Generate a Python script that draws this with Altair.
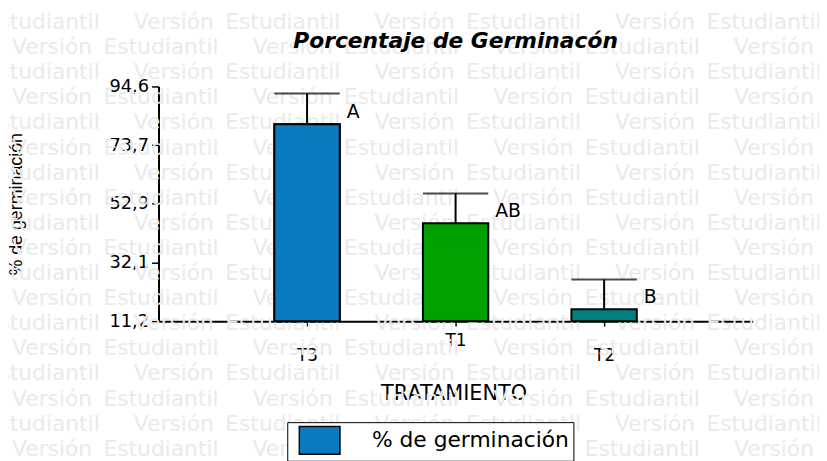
import altair as alt
import pandas as pd

# ---- data ----
tratamientos = ["T3", "T1", "T2"]
medias = [81.2, 46.0, 15.4]
superiores = [92.1, 56.6, 26.0]
letras = ["A", "AB", "B"]
serie = "% de germinación"
y_ticks = [11.2, 32.1, 52.9, 73.7, 94.6]
y_min, y_max = 11.2, 94.6

titulo = "Porcentaje de Germinacón"
x_titulo = "TRATAMIENTO"
y_titulo = "% de germinación"
marca = ["Versión", "Estudiantil"]

# ---- styles ----
colores = ["#0a7bc1", "#00a000", "#008080"]
W, H = 600, 237
LEFT, TOP = 152, 77
FONT = "DejaVu Sans"

df = pd.DataFrame({
    "trat": tratamientos,
    "media": medias,
    "sup": superiores,
    "letra": letras,
    "serie": [serie] * len(tratamientos),
})

# background watermark ("Versión Estudiantil" tiled), positioned in pixels
wm_rows = []
for i in range(18):
    yb = 27 + 25.35 * i - (TOP + 8)
    start = 10 if i % 2 else 133 - 243
    for k in range(5):
        x0 = start + 243 * k - (LEFT + 8)
        wm_rows.append({"w": marca[0], "wx": x0 + 42.5, "wy": yb})
        wm_rows.append({"w": marca[1], "wx": x0 + 152.5, "wy": yb})
wm_df = pd.DataFrame(wm_rows)

wm = alt.Chart(wm_df).mark_text(
    font=FONT, fontSize=22, color="#eaeaea", align="center", baseline="alphabetic"
).encode(
    x=alt.X("wx:Q", scale=None, axis=None),
    y=alt.Y("wy:Q", scale=None, axis=None),
    text="w:N",
)

x_enc = alt.X(
    "trat:N", sort=tratamientos, title=x_titulo,
    scale=alt.Scale(type="point", padding=1),
    axis=alt.Axis(
        labelAngle=0, labelOverlap=False,
        domainColor="black", domainWidth=2,
        tickColor="black", tickWidth=1.5, tickSize=5,
        labelPadding={"condition": {"test": "datum.value == 'T1'", "value": 7}, "value": 22},
        labelFont=FONT, labelFontSize=17, labelColor="black",
        titleFont=FONT, titleFontSize=21, titleFontWeight="normal", titleColor="black",
        titleX=298, titleY=79, titleAlign="center", titleBaseline="alphabetic",
    ),
)
y_enc = alt.Y(
    "media:Q", title=y_titulo,
    scale=alt.Scale(domain=[y_min, y_max], nice=False, zero=False),
    axis=alt.Axis(
        values=y_ticks, grid=False, labelOverlap=False,
        labelExpr="replace(format(datum.value, '.1f'), '.', ',')",
        domainColor="black", domainWidth=2,
        tickColor="black", tickWidth=1.5, tickSize=7, labelPadding=3,
        labelFont=FONT, labelFontSize=18, labelColor="black",
        titleFont="Liberation Sans", titleFontSize=18, titleFontWeight="normal", titleColor="black",
        titleAngle=-90, titleX=-143, titleY=118.5, titleAlign="center", titleBaseline="middle",
    ),
)

base = alt.Chart(df)

bars = base.mark_bar(size=66, stroke="black", strokeWidth=2).encode(
    x=x_enc, y=y_enc, y2=alt.datum(y_min),
    fill=alt.Fill("trat:N", scale=alt.Scale(domain=tratamientos, range=colores), legend=None),
)

leyenda = base.transform_filter(alt.datum.trat == tratamientos[0]).mark_bar(
    size=66, stroke="black", strokeWidth=2
).encode(
    x=alt.X("trat:N", sort=tratamientos),
    y=alt.Y("media:Q"),
    y2=alt.datum(y_min),
    color=alt.Color(
        "serie:N",
        scale=alt.Scale(domain=[serie], range=[colores[0]]),
        legend=alt.Legend(
            title=None, orient="none", legendX=130, legendY=339,
            symbolType="M-0.45,-1H2.48V1H-0.45Z", symbolSize=784,
            symbolStrokeColor="black", symbolStrokeWidth=1.5, symbolOpacity=1,
            labelFont=FONT, labelFontSize=22, labelColor="black", labelOffset=52,
            labelLimit=400,
            padding=3.5, strokeColor="black", fillColor="white", cornerRadius=0,
        ),
    ),
)

err_rule = base.mark_rule(color="black", strokeWidth=2).encode(
    x=alt.X("trat:N", sort=tratamientos), y="media:Q", y2="sup:Q"
)
err_cap = base.mark_tick(color="black", thickness=2, size=66).encode(
    x=alt.X("trat:N", sort=tratamientos), y="sup:Q"
)
letras_txt = base.mark_text(
    align="left", baseline="alphabetic", dx=40, dy=-6, font=FONT, fontSize=19, color="black"
).encode(x=alt.X("trat:N", sort=tratamientos), y="media:Q", text="letra:N")

main = alt.layer(bars, leyenda, err_rule, err_cap, letras_txt)

chart = alt.layer(wm, main).resolve_scale(x="independent", y="independent").properties(
    width=W, height=H,
    autosize="none",
    padding={"left": LEFT, "top": TOP, "right": 819 - LEFT - W, "bottom": 453 - TOP - H},
    title=alt.TitleParams(
        text=titulo, font=FONT, fontSize=22, fontStyle="italic", fontWeight="bold",
        color="black", anchor="middle", baseline="alphabetic", offset=27, dy=86,
    ),
).configure_view(stroke=None)

chart.save("out.html", embed_options={"renderer": "svg", "actions": False})
